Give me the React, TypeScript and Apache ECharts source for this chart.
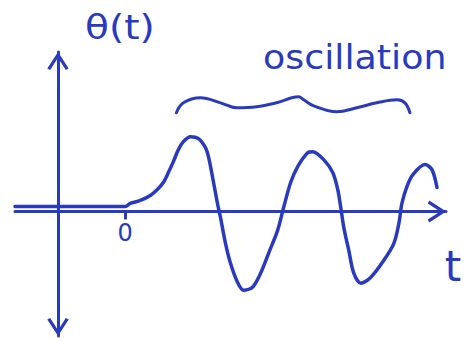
import React, { useEffect, useRef } from 'react';
import * as echarts from 'echarts';

const INK = '#2a3abd';
const FONT = '"DejaVu Sans", "Noto Sans", sans-serif';

// θ(t): at rest for t < 0, then a growing swing into a steady oscillation
const times = [
  -11, -6, -3, 0, 0.5, 1.5, 2.5, 3.2, 3.8, 4.3, 4.8, 5.3, 5.8, 6.5, 7.3, 8, 8.3,
  8.7, 9.2, 9.5, 10, 10.5, 11.2, 11.8, 12.7, 13.5, 14.3, 15.2, 15.8, 16.5, 17.2,
  18.2, 18.7, 19.8, 20.7, 21.2, 21.5, 21.8, 22.3, 22.8, 23.5, 24.5, 25.8, 26.8,
  27.3, 27.6, 28.1, 28.7, 29.9, 30.6, 31.1,
];
const theta = [
  0.5, 0.5, 0.5, 0.5, 0.8, 1.1, 1.6, 2.2, 2.9, 3.9, 5.0, 6.2, 7.0, 7.5, 7.3, 6.4,
  5.5, 3.5, 0.8, -0.6, -3.2, -5.2, -7.1, -7.9, -7.6, -6.2, -4.2, -1.9, 0.4, 2.9,
  4.5, 5.9, 6, 5.2, 3.9, 2.2, 0.4, -1.6, -3.9, -6.2, -7.2, -6.6, -4.9, -3.2,
  -1.2, 0.8, 2.5, 3.7, 4.7, 4.2, 2.4,
];

// curly brace spanning the oscillating part
const braceT = [
  5.1, 5.8, 7.5, 9.5, 11.1, 13.1, 15.1, 17.3, 17.8, 18.8, 21.1, 23.1, 25.1, 27.1,
  27.9, 28.4,
];
const braceTheta = [
  9.9, 10.9, 11.4, 10.9, 10.4, 10.5, 10.9, 11.5, 11.2, 10.6, 10.0, 10.4, 10.9,
  11.2, 10.9, 9.9,
];

// the only marked instant on the time axis
const tickValues = [0];
const tickLabels = ['0'];

const AXIS_NAME_Y = 'θ(t)';
const AXIS_NAME_X = 't';
const BRACE_LABEL = 'oscillation';

// open arrow head, tip at the top of its box
const CHEVRON = 'path://M0,17 L11,0 L22,17 L19,18.5 L11,6 L3,18.5 Z';

export default function App() {
  const ref = useRef<HTMLDivElement>(null);

  useEffect(() => {
    if (!ref.current) return;
    const chart = echarts.init(ref.current, null, { renderer: 'svg' });

    const axisLineStyle = { color: INK, width: 3 };

    chart.setOption({
      animation: false,
      backgroundColor: '#ffffff',
      grid: {
        left: 15,
        top: 52,
        width: 431,
        height: 284,
        containLabel: false,
        outerBoundsMode: 'none',
      },
      xAxis: {
        type: 'value',
        min: -11,
        max: 32,
        axisLine: {
          show: true,
          onZero: true,
          symbol: ['none', CHEVRON],
          symbolSize: [22, 18.5],
          symbolOffset: [0, -9],
          lineStyle: axisLineStyle,
        },
        axisTick: {
          show: true,
          customValues: tickValues,
          length: 8,
          lineStyle: { color: INK, width: 3 },
        },
        axisLabel: {
          show: true,
          customValues: tickValues,
          formatter: (v: number) => tickLabels[tickValues.indexOf(v)] ?? '',
          color: INK,
          fontSize: 24,
          fontFamily: FONT,
          // labels sit at the grid's bottom edge; pull this one up under the axis line
          margin: -115,
        },
        splitLine: { show: false },
      },
      yAxis: {
        type: 'value',
        min: -12.5,
        max: 16,
        position: 'left',
        offset: -43,
        axisLine: {
          show: true,
          onZero: false,
          symbol: [CHEVRON, CHEVRON],
          symbolSize: [24, 18],
          symbolOffset: [9, -9],
          lineStyle: axisLineStyle,
        },
        axisTick: { show: false },
        axisLabel: { show: false },
        splitLine: { show: false },
      },
      series: [
        {
          type: 'line',
          data: times.map((t, i) => [t, theta[i]]),
          smooth: 0.3,
          showSymbol: false,
          silent: true,
          lineStyle: { color: INK, width: 3.5, cap: 'round', join: 'round' },
        },
        {
          type: 'line',
          data: braceT.map((t, i) => [t, braceTheta[i]]),
          smooth: 0.4,
          showSymbol: false,
          silent: true,
          lineStyle: { color: INK, width: 3, cap: 'round', join: 'round' },
        },
      ],
      graphic: [
        {
          type: 'text',
          x: 85,
          y: 27,
          scaleX: 1.15,
          style: {
            text: AXIS_NAME_Y,
            fontSize: 34,
            fontFamily: FONT,
            fill: INK,
            verticalAlign: 'middle',
            textVerticalAlign: 'middle',
          },
        },
        {
          type: 'text',
          x: 263,
          y: 57,
          scaleX: 1.07,
          style: {
            text: BRACE_LABEL,
            fontSize: 34,
            fontFamily: FONT,
            fill: INK,
            verticalAlign: 'middle',
            textVerticalAlign: 'middle',
          },
        },
        {
          type: 'text',
          x: 453,
          y: 266,
          style: {
            text: AXIS_NAME_X,
            fontSize: 42,
            fontFamily: FONT,
            fill: INK,
            align: 'center',
            textAlign: 'center',
            verticalAlign: 'middle',
            textVerticalAlign: 'middle',
          },
        },
      ],
    });

    return () => chart.dispose();
  }, []);

  return (
    <div
      ref={ref}
      style={{ position: 'fixed', left: 0, top: 0, width: 472, height: 341, background: '#fff' }}
    />
  );
}
